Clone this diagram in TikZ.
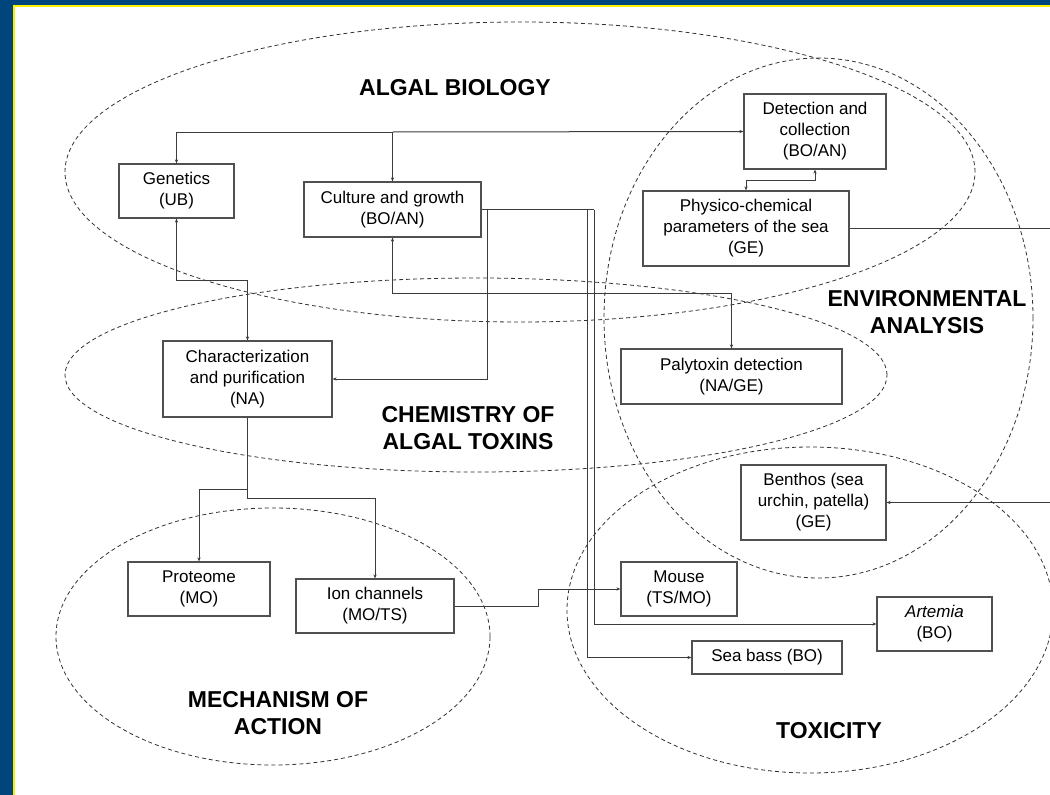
\documentclass[tikz,border=0pt]{standalone}
\usepackage{fontspec}
\setmainfont{Liberation Sans}
\usetikzlibrary{arrows.meta}
\definecolor{bgblue}{RGB}{0,69,124}
\definecolor{bordy}{RGB}{255,240,0}
\definecolor{lnc}{RGB}{60,60,60}
\definecolor{boxc}{RGB}{80,80,80}
\definecolor{ellc}{RGB}{50,50,50}
\begin{document}
\begin{tikzpicture}[x=1pt,y=-1pt,
  box/.style={draw=boxc,line width=1.2pt,fill=white,align=center,inner sep=0pt,
    font=\fontsize{17}{21}\selectfont},
  grp/.style={font=\bfseries\fontsize{23}{27}\selectfont,align=center},
  ell/.style={draw=ellc,dash pattern=on 4pt off 3pt,line width=0.8pt},
  con/.style={draw=lnc,line width=1pt},
  arr/.style={con,-{Stealth[length=4pt,width=3.2pt]}},
  arrb/.style={con,{Stealth[length=4pt,width=3.2pt]}-{Stealth[length=4pt,width=3.2pt]}}]
\useasboundingbox (0,0) rectangle (1050,795);
% background frame
\fill[bgblue] (0,0) rectangle (1050,795);
\fill[bordy] (13,5) rectangle (1050,795);
\fill[white] (15,7) rectangle (1050,795);

% group ellipses
\draw[ell] (520,172) ellipse [x radius=455pt, y radius=150pt];
\draw[ell] (818.5,318) ellipse [x radius=214.5pt, y radius=260pt];
\draw[ell] (476,375) ellipse [x radius=411pt, y radius=97pt];
\draw[ell] (273,636.5) ellipse [x radius=217pt, y radius=128.5pt];
\draw[ell] (810,610) ellipse [x radius=243pt, y radius=163pt];

% group labels
\node[grp] (labA) at (455,88) {ALGAL BIOLOGY};
\node[grp] (labE) at (927,312) {ENVIRONMENTAL\\ANALYSIS};
\node[grp] (labC) at (468,428) {CHEMISTRY OF\\ALGAL TOXINS};
\node[grp] (labM) at (278,713) {MECHANISM OF\\ACTION};
\node[grp] (labT) at (829,731) {TOXICITY};

% boxes
\node[box,minimum width=115pt,minimum height=54pt] (gen) at (176.5,191) {Genetics\\(UB)};
\node[box,minimum width=177pt,minimum height=55pt] (cul) at (392.5,209.5) {Culture and growth\\(BO/AN)};
\node[box,minimum width=142pt,minimum height=75pt] (det) at (815,131.5) {Detection and\\collection\\(BO/AN)};
\node[box,minimum width=206pt,minimum height=75pt] (phy) at (746,228.5) {Physico-chemical\\parameters of the sea\\(GE)};
\node[box,minimum width=169pt,minimum height=76pt] (chr) at (247.5,379) {Characterization\\and purification\\(NA)};
\node[box,minimum width=221pt,minimum height=55pt] (pal) at (731.5,376.5) {Palytoxin detection\\(NA/GE)};
\node[box,minimum width=145pt,minimum height=75pt] (ben) at (813.5,502.5) {Benthos (sea\\urchin, patella)\\(GE)};
\node[box,minimum width=142pt,minimum height=54pt] (pro) at (199,589) {Proteome\\(MO)};
\node[box,minimum width=158pt,minimum height=54pt] (ion) at (375,606) {Ion channels\\(MO/TS)};
\node[box,minimum width=116pt,minimum height=54pt] (mou) at (679,589) {Mouse\\(TS/MO)};
\node[box,minimum width=115pt,minimum height=54pt] (art) at (934.5,624) {\textit{Artemia}\\(BO)};
\node[box,minimum width=150pt,minimum height=33pt] (sea) at (767,657.5) {Sea bass (BO)};

% connectors
\coordinate (b1) at (392.5,132);
\draw[arr] (b1) -| (gen.north);
\draw[arr] (b1) -- (cul.north);
\draw[arr] (b1) -- (det.west);
\draw[arrb] (det.south) -- ++(0,11) -| (phy.north);
\coordinate (pe) at (1050,228.5);
\draw[con] (phy.east) -- (pe);
\coordinate (be) at (1050,502.5);
\draw[arr] (be) -- (ben.east);
\coordinate (g1) at (176.5,280);
\draw[arrb] (gen.south) -- (g1) -| (chr.north);
\coordinate (k1) at (392.5,293);
\draw[arrb] (cul.south) -- (k1) -| (pal.north);
\coordinate (ce) at (594,209.5);
\coordinate (j1) at (487,209.5);
\coordinate (j2) at (587,209.5);
\draw[con] (cul.east) -- (ce);
\draw[arr] (j1) |- (chr.east);
\draw[arr] (j2) |- (sea.west);
\draw[arr] (ce) |- (art.west);
\coordinate (m1) at (538,606);
\draw[arr] (ion.east) -- (m1) |- (mou.west);
\coordinate (c1) at (247.5,489);
\coordinate (c2) at (247.5,498);
\draw[arr] (chr.south) -- (c1) -| (pro.north);
\draw[arr] (c1) -- (c2) -| (ion.north);
\end{tikzpicture}
\end{document}
